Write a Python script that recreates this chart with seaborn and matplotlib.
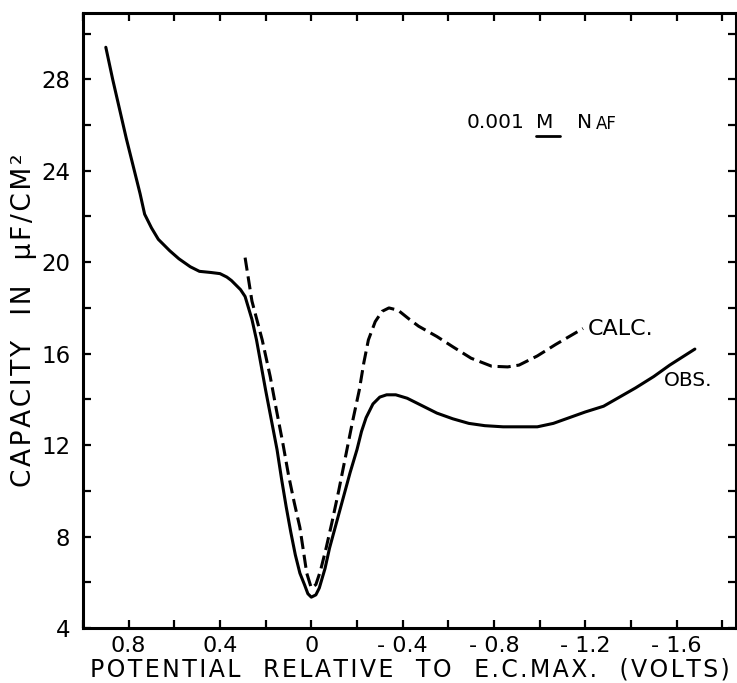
import numpy as np
import pandas as pd
import matplotlib
matplotlib.use("Agg")
import matplotlib.pyplot as plt
import seaborn as sns
from matplotlib.ticker import MultipleLocator, FixedLocator

# ---- data ----
obs_x = [0.90, 0.87, 0.84, 0.81, 0.78, 0.75, 0.73, 0.70, 0.67, 0.62, 0.58, 0.53,
         0.49, 0.44, 0.40, 0.37, 0.35, 0.31, 0.29, 0.26, 0.24, 0.22, 0.20, 0.175,
         0.15, 0.13, 0.11, 0.09, 0.07, 0.05, 0.03, 0.015, 0.0, -0.02, -0.035,
         -0.06, -0.08, -0.11, -0.14, -0.17, -0.20, -0.22, -0.24, -0.27, -0.30,
         -0.33, -0.37, -0.42, -0.48, -0.55, -0.62, -0.69, -0.76, -0.84, -0.92,
         -0.99, -1.06, -1.13, -1.20, -1.28, -1.35, -1.42, -1.50, -1.57, -1.68]
obs_y = [29.4, 28.0, 26.7, 25.4, 24.2, 23.0, 22.1, 21.5, 21.0, 20.5, 20.15, 19.8,
         19.6, 19.55, 19.5, 19.35, 19.2, 18.8, 18.5, 17.5, 16.6, 15.5, 14.4, 13.1,
         11.8, 10.5, 9.3, 8.2, 7.2, 6.4, 5.9, 5.5, 5.35, 5.45, 5.75,
         6.6, 7.5, 8.6, 9.7, 10.8, 11.8, 12.6, 13.2, 13.8, 14.1,
         14.2, 14.2, 14.05, 13.75, 13.4, 13.15, 12.95, 12.85, 12.8, 12.8,
         12.8, 12.95, 13.2, 13.45, 13.7, 14.1, 14.5, 15.0, 15.5, 16.2]

calc_x = [0.29, 0.26, 0.215, 0.18, 0.154, 0.125, 0.10, 0.075, 0.05, 0.02, 0.0,
          -0.02, -0.04, -0.065, -0.09, -0.12, -0.15, -0.18, -0.21, -0.23, -0.25,
          -0.28, -0.31, -0.34, -0.38, -0.43, -0.47, -0.55, -0.62, -0.70, -0.79,
          -0.86, -0.91, -0.99, -1.07, -1.13, -1.19]
calc_y = [20.2, 18.3, 16.6, 15.0, 13.6, 12.1, 10.7, 9.5, 8.4, 6.4, 5.75,
          5.9, 6.5, 7.5, 8.6, 10.0, 11.5, 13.0, 14.4, 15.6, 16.6,
          17.4, 17.85, 18.0, 17.9, 17.5, 17.2, 16.75, 16.3, 15.8, 15.45,
          15.42, 15.5, 15.9, 16.4, 16.75, 17.1]

x_ticks = [0.8, 0.4, 0.0, -0.4, -0.8, -1.2, -1.6]
x_tick_labels = ["0.8", "0.4", "0", "- 0.4", "- 0.8", "- 1.2", "- 1.6"]
y_ticks = [4, 8, 12, 16, 20, 24, 28]
y_tick_labels = ["4", "8", "12", "16", "20", "24", "28"]

sns.set_theme(style="ticks")
plt.rcParams['font.family'] = ['DejaVu Sans']
plt.rcParams['text.color'] = 'black'
plt.rcParams['axes.labelcolor'] = 'black'
plt.rcParams['xtick.color'] = 'black'
plt.rcParams['ytick.color'] = 'black'

HS = "\u200a"  # hair space used for letter spacing


def spaced(s):
    return HS.join(list(s))


fig = plt.figure(figsize=(7.37, 6.83), dpi=100)
ax = fig.add_axes([0.1126, 0.0805, 0.886, 0.9005])

df_obs = pd.DataFrame({"x": obs_x, "y": obs_y})
df_calc = pd.DataFrame({"x": calc_x, "y": calc_y})
sns.lineplot(data=df_obs, x="x", y="y", ax=ax, color="black", lw=2.2,
             sort=False, estimator=None)
sns.lineplot(data=df_calc, x="x", y="y", ax=ax, color="black", lw=2.2,
             sort=False, estimator=None)
ax.lines[-1].set_dashes([4.3, 1.9])

ax.set_xlim(1.0, -1.86)
ax.set_ylim(4, 30.9)

ax.xaxis.set_major_locator(FixedLocator(x_ticks))
ax.set_xticklabels(x_tick_labels)
ax.xaxis.set_minor_locator(MultipleLocator(0.2))
ax.yaxis.set_major_locator(FixedLocator(y_ticks))
ax.set_yticklabels(y_tick_labels)
ax.yaxis.set_minor_locator(MultipleLocator(2))

ax.tick_params(which="both", direction="in", top=True, right=True,
               length=6, width=1.6, color="black")
ax.tick_params(axis="x", which="major", labelsize=16, pad=6)
ax.tick_params(axis="y", which="major", labelsize=16.5, pad=9)
for s in ax.spines.values():
    s.set_linewidth(2.2)
    s.set_color("black")

ax.set_xlabel("   ".join(spaced(w) for w in
              ["POTENTIAL", "RELATIVE", "TO", "E.C.MAX.", "(VOLTS)"]),
              fontsize=17, labelpad=1)
ax.set_ylabel("   ".join(spaced(w) for w in
              ["CAPACITY", "IN", "\u03bcF/CM\u00b2"]),
              fontsize=19, labelpad=3)

ax.text(-1.21, 17.1, "CALC.", fontsize=16, ha="left", va="center")
ax.text(-1.545, 14.83, "OBS.", fontsize=14.5, ha="left", va="center")

# annotation "0.001 M NaF" with underlined M and small-caps AF
ax.text(-0.68, 26.13, "0.001", fontsize=14.5, ha="left", va="center")
ax.text(-0.985, 26.13, "M", fontsize=14.5, ha="left", va="center")
ax.plot([-0.985, -1.09], [25.5, 25.5], color="black", lw=2)
ax.text(-1.165, 26.13, "N", fontsize=14.5, ha="left", va="center")
ax.text(-1.245, 26.05, "AF", fontsize=12, ha="left", va="center")

ax.set_facecolor("white")
fig.patch.set_facecolor("white")
fig.savefig("out.png", dpi=100)
